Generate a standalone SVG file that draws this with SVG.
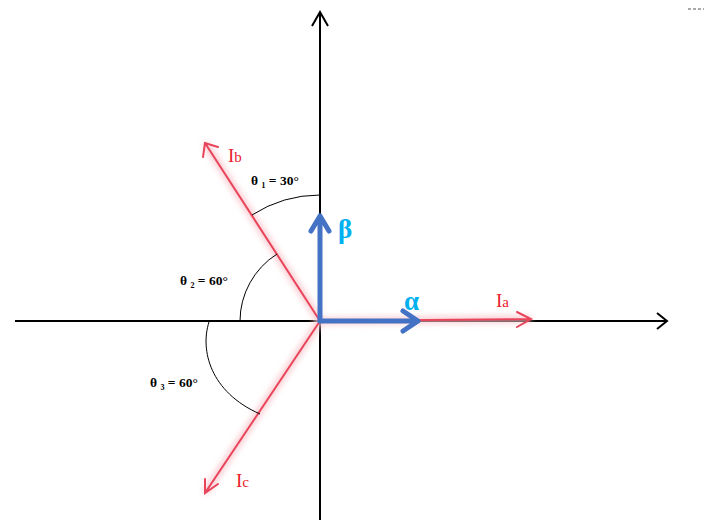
<svg xmlns="http://www.w3.org/2000/svg" width="704" height="528" viewBox="0 0 704 528">
<defs>
<style>
.ax{stroke:#000;stroke-width:2;fill:none}
.red{stroke:#E8455A;stroke-width:2;fill:none;stroke-linecap:round}
.glow{stroke:#F9C4CB;stroke-width:6;fill:none;filter:url(#b)}
.blue{stroke:#4472C4;stroke-width:5;fill:none;stroke-linecap:round;stroke-linejoin:round}
.arc{stroke:#000;stroke-width:1;fill:none}
.lbl{font-family:"Liberation Serif",serif;font-size:13.5px;font-weight:bold;fill:#000}
.rl{font-family:"Liberation Serif",serif;fill:#E8202A;font-size:19px}
.gr{font-family:"Liberation Serif",serif;fill:#00B0F0;font-size:27px;font-weight:bold}
</style>
<filter id="b" x="-20%" y="-20%" width="140%" height="140%"><feGaussianBlur stdDeviation="3"/></filter>
</defs>
<rect width="704" height="528" fill="#fff"/>
<path d="M688 9H704" stroke="#555" stroke-width="1" stroke-dasharray="3 2"/>
<g id="axes">
<path class="ax" d="M15 321H667M657 313L667 321L657 329"/>
<path class="ax" d="M320 520V12M312 26L320 12L328 26"/>
</g>
<g id="connectors">
<path class="glow" d="M320 321L205 143M320 321L205 493M320 321L531 319"/>
<path class="red" d="M320 321L205 143M203 157L205 143L218 147"/>
<path class="red" d="M320 321L205 493M205 479L205 493L218 484"/>
<path class="red" d="M320 321L531 319M517 312L531 319L517 327"/>
<path class="blue" d="M320 321V216M311 231L320 216L329 231"/>
<path class="blue" d="M320 321H418M403 311L418 321L403 331"/>
<path class="arc" d="M320 195A126 126 0 0 0 252 215"/>
<path class="arc" d="M277 254A80 80 0 0 0 240 321"/>
<path class="arc" d="M209 322C200 350 210 392 260 414"/>
</g>
<g id="labels">
<text class="lbl" x="251" y="185" xml:space="preserve">θ ₁ = 30°</text>
<text class="lbl" x="180" y="285" xml:space="preserve">θ ₂ = 60°</text>
<text class="lbl" x="150" y="387" xml:space="preserve">θ ₃ = 60°</text>
<text class="rl" x="228" y="162">I<tspan font-size="15">b</tspan></text>
<text class="rl" x="496" y="307">I<tspan font-size="15">a</tspan></text>
<text class="rl" x="236" y="487">I<tspan font-size="15">c</tspan></text>
<text class="gr" x="338" y="238">β</text>
<text class="gr" x="404" y="310">α</text>
</g>
</svg>
